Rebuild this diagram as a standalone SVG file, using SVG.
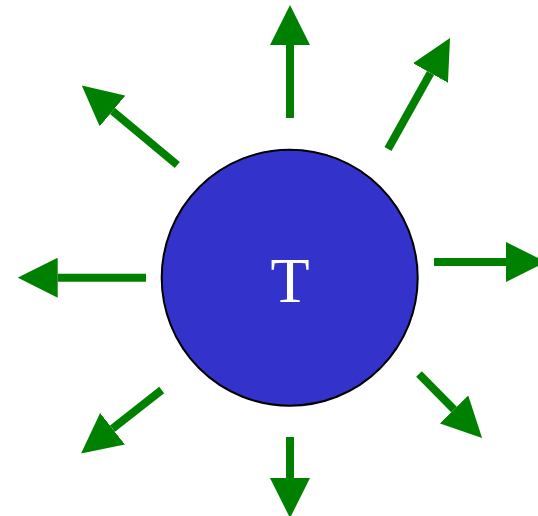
<svg xmlns="http://www.w3.org/2000/svg" width="538" height="516" viewBox="0 0 538 516">
  <defs>
    <marker id="head" markerUnits="userSpaceOnUse" viewBox="0 0 40 40" markerWidth="40" markerHeight="40" refX="0" refY="20" orient="auto">
      <path d="M0,0 L40,20 L0,40 z" fill="#008000"/>
    </marker>
    <style>
      .arr { stroke: #008000; stroke-width: 8; fill: none; stroke-linecap: butt; marker-end: url(#head); }
      .lbl { font-family: "Liberation Serif", "Times New Roman", serif; font-size: 64px; fill: #ffffff; text-anchor: middle; }
    </style>
  </defs>
  <rect width="538" height="516" fill="#ffffff"/>
  <g id="connectors">
    <line class="arr" x1="290" y1="118" x2="290" y2="45"/>
    <line class="arr" x1="388" y1="149" x2="430.5" y2="73"/>
    <line class="arr" x1="434" y1="262" x2="506" y2="262"/>
    <line class="arr" x1="419" y1="374" x2="454" y2="409.5"/>
    <line class="arr" x1="290" y1="437" x2="290" y2="478"/>
    <line class="arr" x1="161.7" y1="390" x2="112.5" y2="428.7"/>
    <line class="arr" x1="146" y1="277.7" x2="57.7" y2="277.7"/>
    <line class="arr" x1="177.3" y1="165" x2="112.5" y2="111"/>
  </g>
  <g id="node-T">
    <circle cx="289.7" cy="277.7" r="128" fill="#3333CC" stroke="#000000" stroke-width="2"/>
    <text class="lbl" x="290" y="302">T</text>
  </g>
</svg>
